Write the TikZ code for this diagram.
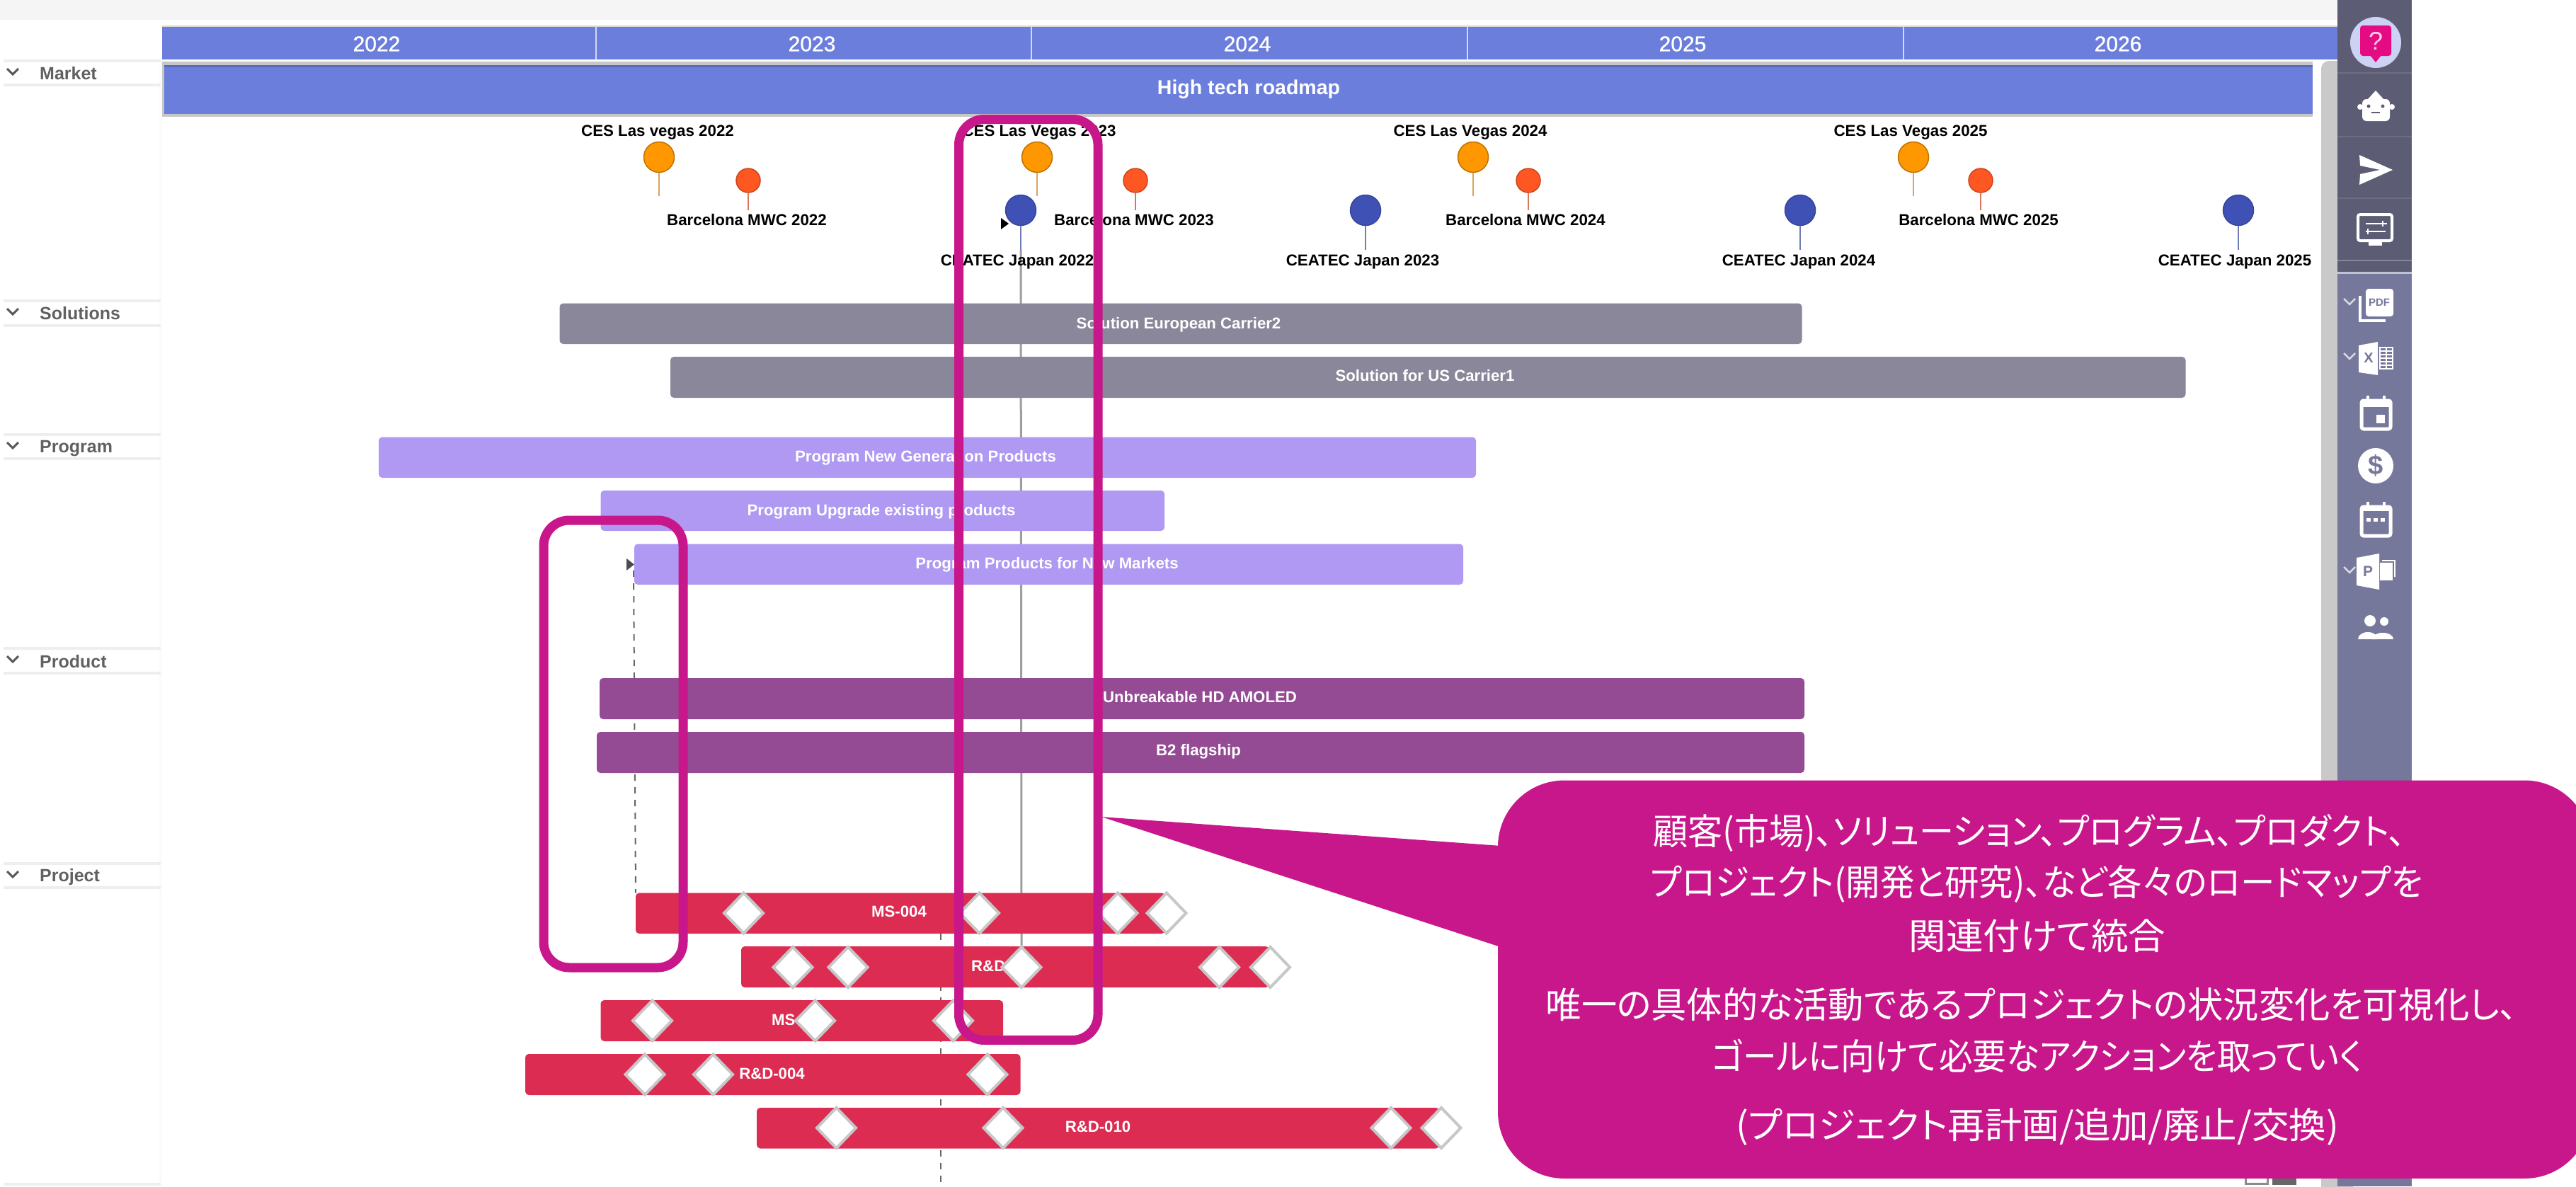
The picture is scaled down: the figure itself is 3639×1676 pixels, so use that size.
\documentclass[tikz,border=0pt]{standalone}
\usepackage{graphicx}
\usepackage{fontspec}
\setmainfont{Liberation Sans}
\newfontfamily\medf[FakeBold=1.0]{Liberation Sans}
\newfontfamily\cjk[RawFeature={+palt}]{Noto Sans CJK JP}
\usetikzlibrary{shapes.geometric}
\pgfdeclarelayer{base}
\pgfdeclarelayer{conn}
\pgfsetlayers{base,conn,main}
\definecolor{hdr}{HTML}{6B7EDC}
\definecolor{solc}{HTML}{8A879A}
\definecolor{prgc}{HTML}{AF99F2}
\definecolor{prdc}{HTML}{944B94}
\definecolor{prjc}{HTML}{DD2C52}
\definecolor{mag}{HTML}{C7178B}
\definecolor{sbd}{HTML}{5C5D74}
\definecolor{sbl}{HTML}{75789A}
\definecolor{rowl}{HTML}{EEEEEE}
\definecolor{mwc}{HTML}{FF5722}
\definecolor{cea}{HTML}{3F51B5}
\definecolor{cesc}{HTML}{FF9800}
\definecolor{cesst}{HTML}{DDA35A}
\definecolor{mwcst}{HTML}{D9765C}
\definecolor{ceast}{HTML}{6F7DB8}
\newcommand{\mybar}[6]{\pgfmathsetmacro\bw{#4-#2}\pgfmathsetmacro\bh{#5-#3}%
 \node[barbox,#6,minimum width=\bw pt,minimum height=\bh pt,anchor=north west] (#1) at (#2,#3) {};}
\newcommand{\mytxt}[4]{\node[bartext] (#1) at (#2,#3) {#4};}
\newcommand{\ms}[3]{\node[msd] (#1) at (#2,#3) {};}
\newcommand{\mypin}[8]{% name x cy size end fill draw stem
 \node[circle,inner sep=0,outer sep=0,minimum size=#4 pt,fill=#6,draw=#7,line width=1.5pt] (#1) at (#2,#3) {};
 \coordinate (#1-e) at (#2,#5);
 \draw[#8,line width=2.6pt] (#1.south) -- (#1-e);}
\newcommand{\rowlab}[5]{% name top bottom text labely
 \draw[rowl,line width=3.5pt] (5,#2) -- (227,#2);
 \draw[rowl,line width=3.5pt] (5,#3) -- (227,#3);
 \draw[black!65,line width=3pt] (10,#2+11) -- (18,#2+19) -- (26,#2+11);
 \node[anchor=west,inner sep=0,font=\fontsize{25}{28}\selectfont\bfseries,text=black!62] (#1) at (56,#5) {#4};}
\newcommand{\chev}[2]{\draw[white!72!sbl,line width=2.5pt] (#1,#2-5) -- (#1+8,#2+3) -- (#1+16,#2-5);}
\tikzset{
 barbox/.style={rectangle,inner sep=0,outer sep=0,rounded corners=5pt},
 bartext/.style={inner sep=0,text=white,font=\fontsize{22.2}{26}\selectfont\bfseries},
 pinlab/.style={inner sep=0,text=black,font=\fontsize{22.3}{26}\selectfont\bfseries},
 yearlab/.style={inner sep=0,text=white,font=\fontsize{30}{34}\selectfont\medf},
 msd/.style={diamond,shape aspect=0.97,minimum width=55pt,minimum height=57pt,inner sep=0,outer sep=0,fill=white,draw=black!22,line width=4pt},
 magbox/.style={draw=mag,line width=13pt,rounded corners=36pt},
 ctext/.style={inner sep=0,text=white,font=\fontsize{51}{56}\selectfont\cjk},
 ico/.style={fill=white,draw=none},
 icl/.style={draw=white,line width=4pt,fill=none,rounded corners=3pt},
 dashconn/.style={black!60,line width=2pt,dash pattern=on 9pt off 9pt},
}
\begin{document}
\begin{tikzpicture}[x=1pt,y=-1pt]
\useasboundingbox (0,0) rectangle (3639,1676);
\begin{pgfonlayer}{base}
\fill[white] (0,0) rectangle (3639,1676);
\end{pgfonlayer}
% top strip
\fill[black!4] (0,0) rectangle (3302,28);
% left column
\fill[black!1.5] (225,85) rectangle (229,1676);
\rowlab{lmarket}{86}{120}{Market}{104}
\rowlab{lsol}{425}{460}{Solutions}{443}
\rowlab{lprog}{614}{648}{Program}{634}
\rowlab{lprod}{916}{951}{Product}{935}
\rowlab{lproj}{1220}{1254}{Project}{1239}
\draw[rowl,line width=3.5pt] (5,1673) -- (227,1673);
% header
\fill[hdr] (229,37) rectangle (3302,84);
\draw[black!15,line width=2pt] (229,37) -- (3302,37);
\foreach \xx in {842,1457,2073,2689} \draw[white!70!hdr,line width=2.5pt] (\xx,37) -- (\xx,84);
\node[yearlab] (y22) at (532,62) {2022};
\node[yearlab] (y23) at (1147,62) {2023};
\node[yearlab] (y24) at (1762,62) {2024};
\node[yearlab] (y25) at (2377,62) {2025};
\node[yearlab] (y26) at (2992,62) {2026};
% roadmap band
\fill[black!22] (229,87) rectangle (3267,165);
\fill[hdr!85!black] (232,92) rectangle (3267,95);
\fill[hdr] (232,95) rectangle (3267,161);
\node[inner sep=0,text=white,font=\fontsize{28.5}{32}\selectfont\bfseries] (road) at (1764,126) {High tech roadmap};
% scrollbar and sidebar
\fill[black!21,rounded corners=11pt] (3279,86) rectangle (3324,1690);
\fill[sbd] (3302,0) rectangle (3407,385);
\fill[sbl] (3302,385) rectangle (3407,1676);
\foreach \yy in {103,193,280} \draw[white!10!sbd,line width=1.5pt] (3302,\yy) -- (3407,\yy);
\draw[white!25!sbd,line width=2pt] (3302,368) -- (3407,368);
\draw[white!55!sbl,line width=3pt] (3302,385) -- (3407,385);
% icons
\fill[white!65!hdr] (3356,60) circle (36);
\fill[fill=magenta!85!purple,rounded corners=4pt] (3334,36) rectangle (3378,79);
\fill[fill=magenta!85!purple] (3348,78) -- (3356,88) -- (3364,78) -- cycle;
\node[inner sep=0,text=white!80!magenta,font=\fontsize{36}{38}\selectfont] (qm) at (3356,58) {?};
% robot
\fill[ico,rounded corners=6pt] (3337,140) rectangle (3376,171);
\fill[ico] (3345,140) -- (3356,128) -- (3367,140) -- cycle;
\fill[ico] (3334,151) circle (4);
\fill[ico] (3379,151) circle (4);
\fill[sbd] (3346,150) circle (2.5);
\fill[sbd] (3366,150) circle (2.5);
\draw[sbd,line width=2pt] (3350,159) -- (3362,159);
% send
\fill[ico] (3333,219) -- (3380,240) -- (3333,261) -- (3334,246) -- (3362,240) -- (3334,234) -- cycle;
% monitor
\draw[icl] (3331,303) rectangle (3379,340);
\fill[ico] (3346,342) rectangle (3365,347);
\draw[white,line width=2pt] (3342,316) -- (3372,316) (3342,327) -- (3370,327);
\draw[white,line width=2pt] (3366,312) -- (3366,320) (3345,323) -- (3345,331);
% pdf
\chev{3311}{427}
\fill[ico,rounded corners=4pt] (3342,408) rectangle (3381,447);
\draw[white,line width=4pt] (3334,418) -- (3334,453) -- (3370,453);
\node[inner sep=0,text=sbl,font=\fontsize{15}{16}\selectfont\bfseries] (ipdf) at (3361,427) {PDF};
% excel
\chev{3311}{504}
\fill[ico] (3332,488) -- (3359,483) -- (3359,530) -- (3332,526) -- cycle;
\node[inner sep=0,text=sbl,font=\fontsize{20}{22}\selectfont\bfseries] (ix) at (3346,506) {X};
\foreach \yy in {491,496,501,506,511,516,521} \draw[white,line width=2pt] (3361,\yy) -- (3381,\yy);
\foreach \xx in {3362,3371,3380} \draw[white,line width=1.5pt] (\xx,490) -- (\xx,522);
% calendar 1
\draw[icl,line width=5pt] (3336,566) rectangle (3377,606);
\fill[ico] (3336,564) rectangle (3377,575);
\fill[ico] (3343,559) rectangle (3347,566);
\fill[ico] (3366,559) rectangle (3370,566);
\fill[ico] (3357,586) rectangle (3369,598);
% dollar
\fill[ico] (3356,658) circle (25);
\node[inner sep=0,text=sbl,font=\fontsize{38}{40}\selectfont\bfseries] (idol) at (3356,658) {\$};
% calendar 2
\draw[icl,line width=5pt] (3336,716) rectangle (3377,757);
\fill[ico] (3336,714) rectangle (3377,722);
\fill[ico] (3343,709) rectangle (3347,716);
\fill[ico] (3366,709) rectangle (3370,716);
\foreach \xx in {3346,3356,3366} \fill[ico] (\xx-3,732) rectangle (\xx+3,737);
% ppt
\chev{3311}{806}
\fill[ico] (3329,788) -- (3361,782) -- (3361,833) -- (3329,827) -- cycle;
\node[inner sep=0,text=sbl,font=\fontsize{21}{23}\selectfont\bfseries] (ip) at (3345,807) {P};
\fill[ico] (3362,795) rectangle (3380,820);
\draw[white,line width=1.5pt] (3365,792) -- (3383,792) -- (3383,815);
% people
\fill[ico] (3348,877) circle (8);
\fill[ico] (3368,878) circle (6);
\fill[ico] (3331,903) arc[start angle=180,end angle=360,x radius=14,y radius=10] -- cycle;
\fill[ico] (3351,903) arc[start angle=180,end angle=360,x radius=15,y radius=9] -- cycle;
% leftovers below the callout
\fill[black!60] (3210,1660) rectangle (3244,1674);
\draw[black!45,line width=3pt] (3172,1660) -- (3172,1672) -- (3203,1672) -- (3203,1660);
% pins
\mypin{c22}{931}{222}{43}{277}{cesc}{cesc!75!black}{cesst}
\mypin{c23}{1465}{222}{43}{277}{cesc}{cesc!75!black}{cesst}
\mypin{c24}{2081}{222}{43}{277}{cesc}{cesc!75!black}{cesst}
\mypin{c25}{2703}{222}{43}{277}{cesc}{cesc!75!black}{cesst}
\mypin{m22}{1057}{255}{34}{297}{mwc}{mwc!80!black}{mwcst}
\mypin{m23}{1604}{255}{34}{297}{mwc}{mwc!80!black}{mwcst}
\mypin{m24}{2159}{255}{34}{297}{mwc}{mwc!80!black}{mwcst}
\mypin{m25}{2798}{255}{34}{297}{mwc}{mwc!80!black}{mwcst}
\mypin{e22}{1442}{297}{43}{353}{cea}{cea!85!black}{ceast}
\mypin{e23}{1929}{297}{43}{353}{cea}{cea!85!black}{ceast}
\mypin{e24}{2543}{297}{43}{353}{cea}{cea!85!black}{ceast}
\mypin{e25}{3162}{297}{43}{353}{cea}{cea!85!black}{ceast}
\node[pinlab] (tc22) at (929,187) {CES Las vegas 2022};
\node[pinlab] (tc23) at (1468,187) {CES Las Vegas 2023};
\node[pinlab] (tc24) at (2077,187) {CES Las Vegas 2024};
\node[pinlab] (tc25) at (2699,187) {CES Las Vegas 2025};
\node[pinlab] (tm22) at (1055,311) {Barcelona MWC 2022};
\node[pinlab] (tm23) at (1602,311) {Barcelona MWC 2023};
\node[pinlab] (tm24) at (2155,311) {Barcelona MWC 2024};
\node[pinlab] (tm25) at (2795,311) {Barcelona MWC 2025};
\node[pinlab] (te22) at (1437,370) {CEATEC Japan 2022};
\node[pinlab] (te23) at (1925,370) {CEATEC Japan 2023};
\node[pinlab] (te24) at (2541,370) {CEATEC Japan 2024};
\node[pinlab] (te25) at (3157,370) {CEATEC Japan 2025};
\fill[black] (1414,308) -- (1425,316) -- (1414,324) -- cycle;
\fill[black!70] (885,789) -- (896,797.5) -- (885,806) -- cycle;
% bars
\mybar{sol1}{790.5}{428.5}{2545.5}{486}{fill=solc}
\mybar{sol2}{947}{504}{3087.5}{562}{fill=solc}
\mybar{pr1}{535}{617.5}{2085}{675}{fill=prgc}
\mybar{pr2}{848.5}{693}{1645}{750}{fill=prgc}
\mybar{pr3}{896}{768.5}{2067}{826}{fill=prgc}
\mybar{pd1}{847}{958}{2549}{1016}{fill=prdc}
\mybar{pd2}{843}{1034}{2549}{1092}{fill=prdc}
\mybar{pj1}{898}{1261.5}{1646}{1319}{fill=prjc}
\mybar{pj2}{1047}{1337}{1793}{1395}{fill=prjc}
\mybar{pj3}{848.5}{1413}{1417}{1471}{fill=prjc}
\mybar{pj4}{742}{1489}{1441.5}{1547}{fill=prjc}
\mybar{pj5}{1069}{1565}{2033.5}{1622.5}{fill=prjc}
\mytxt{tsol1}{1665}{459}{Solution European Carrier2}
\mytxt{tsol2}{2013}{531}{Solution for US Carrier1}
\mytxt{tpr1}{1307.5}{647}{Program New Generation Products}
\mytxt{tpr2}{1245}{723}{Program Upgrade existing products}
\mytxt{tpr3}{1479}{798}{Program Products for New Markets}
\mytxt{tpd1}{1695}{985}{Unbreakable HD AMOLED}
\mytxt{tpd2}{1693}{1062}{B2 flagship}
\mytxt{tpj1}{1270}{1288}{MS-004}
\node[bartext,anchor=west] (tpj2) at (1372,1365) {R\&D};
\node[bartext,anchor=west] (tpj3) at (1090,1441) {MS-};
\mytxt{tpj4}{1090.5}{1517}{R\&D-004}
\mytxt{tpj5}{1551}{1592}{R\&D-010}
% milestones
\ms{a1}{1050.5}{1290}\ms{a2}{1383.5}{1290}\ms{a3}{1579}{1290}\ms{a4}{1648}{1290}
\ms{b1}{1120}{1366.5}\ms{b2}{1198}{1366.5}\ms{b3}{1443}{1366.5}\ms{b4}{1722.5}{1366.5}\ms{b5}{1794.5}{1366.5}
\ms{d1}{921.5}{1442}\ms{d2}{1151.5}{1442}\ms{d3}{1346.5}{1442}
\ms{f1}{911}{1518}\ms{f2}{1007.5}{1518}\ms{f3}{1395}{1518}
\ms{g1}{1181.5}{1593.5}\ms{g2}{1417}{1593.5}\ms{g3}{1965}{1593.5}\ms{g4}{2036}{1593.5}
% connectors behind the bars
\coordinate (dash1top) at (895,806);
\coordinate (dash2top) at (1329,1319);
\coordinate (dash2end) at (1329,1676);
\begin{pgfonlayer}{conn}
\draw[black!38,line width=3pt] (e22-e) -- (b3.north);
\draw[dashconn] (dash1top) -- (pj1.north west);
\draw[dashconn] (dash2top) -- (dash2end);
\end{pgfonlayer}
% magenta frames
\draw[magbox] (1354.5,168.5) rectangle (1551,1469.5);
\draw[magbox] (768,735) rectangle (965,1367);
% callout
\coordinate (tip) at (1556,1154);
\fill[mag,rounded corners=94pt] (2116,1102.5) rectangle (3660,1665);
\fill[mag] (tip) -- (2120,1195) -- (2120,1338) -- cycle;
\node[ctext] (l1) at (2867,1177) {\scalebox{0.963}[1]{顧客(市場)、ソリューション、プログラム、プロダクト、}};
\node[ctext] (l2) at (2877,1249) {\scalebox{0.95}[1]{プロジェクト(開発と研究)、など各々のロードマップを}};
\node[ctext] (l3) at (2878,1322) {\scalebox{1.03}[1]{関連付けて統合}};
\node[ctext] (l4) at (2870,1419) {\scalebox{0.985}[1]{唯一の具体的な活動であるプロジェクトの状況変化を可視化し、}};
\node[ctext] (l5) at (2878,1492) {\scalebox{0.936}[1]{ゴールに向けて必要なアクションを取っていく}};
\node[ctext] (l6) at (2878,1592) {\scalebox{1.03}[1]{(プロジェクト再計画/追加/廃止/交換)}};
\end{tikzpicture}
\end{document}
